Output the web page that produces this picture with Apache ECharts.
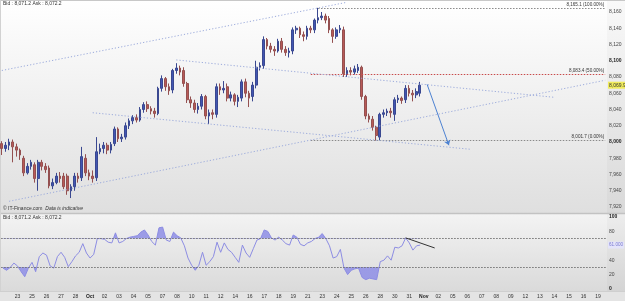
<!DOCTYPE html>
<html>
<head>
<meta charset="utf-8">
<script src="https://cdn.jsdelivr.net/npm/echarts@6.0.0/dist/echarts.min.js"></script>
<style>
html,body{margin:0;padding:0;background:#e4e4e4;}
#main{width:625px;height:301px;}
</style>
</head>
<body>
<div id="main"></div>
<script>
// axis day labels, one every 4 slots
var dayLabels = ['23','25','26','27','28','Oct','02','03','04','05','07','08','10','11','12','14','16','17','18','19',
	'21','23','24','25','26','28','30','31','Nov','02','05','06','07','08','09','12','13','14','15','16','19'];
var slotCount = 167;

var openPrices = [7998,7992,7996,8000,7994,7990,7980,7962,7970,7972, 7955,7975,7970,7968,7946,7950,7958,7958,7958,7940,
	7945,7958,7956,7980,7962,7958,7956,7988,7992,7996, 7990,7998,8016,8004,8006,8020,8026,8030,8027,8040,
	8046,8041,8038,8035,8066,8078,8068,8064,8088,8091, 8088,8072,8052,8048,8040,8044,8056,8032,8036,8034,
	8068,8064,8068,8054,8058,8050,8054,8074,8060,8056, 8070,8092,8094,8126,8118,8114,8112,8124,8114,8110,
	8112,8138,8140,8132,8130,8140,8138,8150,8153,8155, 8152,8138,8130,8138,8138,8084,8088,8086,8088,8092,
	8056,8032,8028,8018,8006,8034,8036,8038,8034,8052, 8054,8052,8066,8060,8058,8060];
var closePrices = [7992,7996,8000,7994,7990,7984,7962,7970,7975,7955, 7975,7970,7966,7946,7950,7958,7955,7945,7940,7945,
	7958,7955,7982,7962,7958,7955,7988,7992,7996,7990, 7997,8016,8004,8006,8020,8026,8030,8027,8040,8046,
	8041,8038,8035,8066,8078,8068,8063,8088,8091,8086, 8072,8052,8048,8040,8044,8056,8032,8036,8034,8068,
	8064,8066,8054,8058,8050,8055,8074,8060,8054,8070, 8092,8094,8126,8118,8114,8112,8124,8114,8110,8112,
	8138,8140,8132,8130,8140,8138,8150,8153,8155,8150, 8138,8130,8138,8140,8084,8088,8086,8090,8092,8056,
	8032,8028,8018,8008,8034,8036,8038,8036,8052,8054, 8051,8066,8060,8058,8062,8069.9];
var lowPrices = [7984,7988,7990,7975,7982,7978,7958,7960,7966,7950, 7940,7965,7962,7943,7942,7948,7950,7942,7935,7931,
	7940,7950,7952,7958,7953,7950,7952,7985,7986,7985, 7986,7995,8000,8000,8003,8016,8022,8024,8025,8036,
	8037,8034,8030,8033,8062,8063,8058,8060,8084,8082, 8068,8048,8042,8036,8035,8040,8028,8022,8028,8030,
	8058,8060,8050,8050,8045,8043,8050,8055,8043,8050, 8066,8088,8090,8114,8110,8106,8110,8110,8106,8104,
	8108,8133,8128,8124,8126,8134,8134,8146,8150,8146, 8134,8122,8127,8134,8080,8080,8082,8083,8085,8052,
	8028,8024,8014,8001.7,8002,8030,8032,8030,8026,8048, 8047,8048,8056,8050,8054,8056];
var highPrices = [8001,8000,8004,8003,7998,7992,7983,7974,7978,7975, 7978,7978,7974,7971,7955,7962,7963,7962,7961,7948,
	7962,7962,7994,7985,7966,7965,8006,7998,8000,7999, 8000,8019,8018,8010,8024,8029,8033,8034,8043,8049,
	8050,8044,8042,8068,8082,8080,8072,8090,8097,8094, 8092,8074,8056,8052,8048,8059,8058,8040,8040,8072,
	8072,8075,8072,8062,8060,8058,8077,8078,8063,8074, 8100,8098,8130,8128,8122,8118,8127,8128,8118,8116,
	8141,8143,8142,8136,8143,8143,8152,8165.1,8160,8158, 8155,8140,8141,8144,8142,8092,8092,8094,8096,8094,
	8058,8035,8032,8020,8036,8040,8041,8042,8055,8058, 8056,8070,8070,8064,8066,8074];

var rsiValues = [29,26,30,36,32,24,17,29,37,24, 45,50,47,32,29,45,51,44,31,38,
	46,51,63,50,43,48,70,70,69,65, 64,78,64,66,70,72,73,74,79,82,
	75,66,61,85,86,68,66,79,74,71, 60,43,33,26,33,51,33,38,45,65,
	51,64,55,51,44,37,61,50,44,56, 68,70,82,80,71,68,72,68,63,61,
	75,72,62,60,64,66,70,72,77,70, 60,43,45,55,29,20,26,28,29,16,
	13,15,14,13,38,40,46,40,58,57, 60,71,64,54,60,61];

var priceTicks = [7920,7940,7960,7980,8000,8020,8040,8060,8080,8100,8120,8140,8160];
var fibLevels = [8165.1, 8083.4, 8001.7];
var fibNames = ['8,165.1 (100.00%)', '8,083.4 (50.00%)', '8,001.7 (0.00%)'];
var rsiLevels = [70, 30];
// drawn lines: [startSlot, startPrice, endSlot, endPrice]
var trendLines = [
	[0, 8088, 95, 8172],
	[2, 7927, 166, 8076],
	[48, 8101, 152, 8055],
	[25, 8036, 129, 7991]
];
var arrowLine = [117, 8071, 123, 7996];
var rsiTrend = [111, 71, 119, 57];
var bidText = 'Bid : 8,071.2 Ask : 8,072.2';

var myChart = echarts.init(document.getElementById('main'));

var slots = [];
var slotLabel = {};
for (var i = 0; i < slotCount; i++) {
	slots.push(String(i));
	slotLabel[i] = (i > 0 && i % 4 === 0 && dayLabels[i / 4 - 1]) ? dayLabels[i / 4 - 1] : '';
}
var candles = [];
for (var j = 0; j < closePrices.length; j++) {
	candles.push([openPrices[j], closePrices[j], lowPrices[j], highPrices[j]]);
}

var fontName = 'Liberation Sans';
var lastClose = closePrices[closePrices.length - 1];
var lastRsi = rsiValues[rsiValues.length - 1];

var priceMarks = [];
fibLevels.forEach(function(v, k){
	var col = k === 1 ? '#c84a4a' : '#8a8a8a';
	var start = k === 0 ? 87 : 85;
	priceMarks.push([
		{coord: [start, v], lineStyle: {color: col, type: [1.5, 1.5], width: 1},
			label: {show: true, position: 'insideEndTop', formatter: fibNames[k], fontSize: 4.6, color: '#333', fontFamily: fontName, distance: 1}},
		{coord: [slotCount - 1, v]}
	]);
});
trendLines.forEach(function(t){
	priceMarks.push([
		{coord: [t[0], t[1]], lineStyle: {color: '#9cabdc', type: [1.2, 2], width: 1}, label: {show: false}},
		{coord: [t[2], t[3]]}
	]);
});
priceMarks.push([
	{coord: [arrowLine[0], arrowLine[1]], symbol: 'none', lineStyle: {color: '#4d82d2', type: 'solid', width: 1}, label: {show: false}},
	{coord: [arrowLine[2], arrowLine[3]], symbol: 'arrow', symbolSize: 5}
]);
priceMarks.push({
	yAxis: lastClose, lineStyle: {color: 'rgba(0,0,0,0)', width: 0},
	label: {show: true, position: 'end', distance: 1, formatter: lastClose.toLocaleString('en-US', {minimumFractionDigits: 1}),
		backgroundColor: '#f1ec5c', color: '#333', fontSize: 5, fontFamily: fontName, padding: [1, 1]}
});

var rsiMarks = [];
rsiLevels.forEach(function(v){
	rsiMarks.push({yAxis: v, lineStyle: {color: '#707070', type: [1.5, 1.5], width: 1}, label: {show: false}});
});
rsiMarks.push([
	{coord: [rsiTrend[0], rsiTrend[1]], lineStyle: {color: '#333', type: 'solid', width: 1}, label: {show: false}},
	{coord: [rsiTrend[2], rsiTrend[3]]}
]);
rsiMarks.push({
	yAxis: lastRsi, lineStyle: {color: 'rgba(0,0,0,0)', width: 0},
	label: {show: true, position: 'end', distance: 1, formatter: lastRsi.toFixed(3),
		backgroundColor: '#e4e4fa', color: '#7a7ad0', fontSize: 4.6, fontFamily: fontName, padding: [1, 1]}
});

function grad(a, b){
	return {type: 'linear', x: 0, y: 0, x2: 0, y2: 1, colorStops: [{offset: 0, color: a}, {offset: 1, color: b}]};
}

myChart.setOption({
	animation: false,
	backgroundColor: '#e4e4e4',
	textStyle: {fontFamily: fontName},
	graphic: [
		{type: 'rect', z: -10, shape: {x: 0, y: 0, width: 625, height: 213}, style: {fill: grad('#ffffff', '#dfdfdf')}},
		{type: 'rect', z: -10, shape: {x: 0, y: 214, width: 625, height: 77}, style: {fill: grad('#f3f3f3', '#dadada')}},
		{type: 'rect', z: -9, shape: {x: 607, y: 0, width: 18, height: 291}, style: {fill: 'rgba(0,0,0,0.025)'}},
		{type: 'line', z: -8, shape: {x1: 0, y1: 213.5, x2: 625, y2: 213.5}, style: {stroke: '#c2c2c2', lineWidth: 1.5}},
		{type: 'line', z: -8, shape: {x1: 0, y1: 291.5, x2: 625, y2: 291.5}, style: {stroke: '#cfcfcf', lineWidth: 1}},
		{type: 'line', z: -8, shape: {x1: 0, y1: 0.5, x2: 625, y2: 0.5}, style: {stroke: '#c8c8c8', lineWidth: 1}},
		{type: 'line', z: -8, shape: {x1: 0.5, y1: 0, x2: 0.5, y2: 291}, style: {stroke: '#d2d2d2', lineWidth: 1}}
	],
	title: [
		{text: bidText, left: 3, top: 1, padding: 0, textStyle: {fontSize: 5, fontWeight: 'normal', color: '#333', fontFamily: fontName}},
		{text: '{a|© IT-Finance.com}  {b|Data is indicative}', left: 3, top: 206, padding: 0,
			textStyle: {fontSize: 5, fontWeight: 'normal', color: '#333', rich: {
				a: {fontSize: 5, color: '#333', fontFamily: fontName},
				b: {fontSize: 5, color: '#333', fontStyle: 'italic', fontFamily: fontName}}}},
		{text: bidText, left: 3, top: 215, padding: 0, textStyle: {fontSize: 5, fontWeight: 'normal', color: '#333', fontFamily: fontName}}
	],
	grid: [
		{left: 0, right: 18, top: 2, height: 211},
		{left: 0, right: 18, top: 217, height: 72}
	],
	xAxis: [
		{type: 'category', gridIndex: 0, data: slots, boundaryGap: true,
			axisLine: {show: false}, axisTick: {show: false}, axisLabel: {show: false}, splitLine: {show: false}},
		{type: 'category', gridIndex: 1, data: slots, boundaryGap: true,
			axisLine: {show: false}, axisTick: {show: false}, splitLine: {show: false},
			axisLabel: {interval: 3, margin: 5, fontSize: 5, color: '#333', fontFamily: fontName,
				formatter: function(v, idx){
					var s = slotLabel[idx] || '';
					return (s === 'Oct' || s === 'Nov') ? '{b|' + s + '}' : s;
				},
				rich: {b: {fontWeight: 'bold', fontSize: 5, fontFamily: fontName, color: '#222'}}}}
	],
	yAxis: [
		{type: 'value', gridIndex: 0, position: 'right', min: 7912.6, max: 8172.3,
			splitLine: {show: false}, axisLine: {show: false}, axisTick: {show: false},
			axisLabel: {customValues: priceTicks, margin: 2, fontSize: 5, color: '#444', fontFamily: fontName,
				formatter: function(v){
					var s = v.toLocaleString('en-US');
					return v % 100 === 0 ? '{b|' + s + '}' : s;
				},
				rich: {b: {fontWeight: 'bold', fontSize: 5, fontFamily: fontName, color: '#222'}}}},
		{type: 'value', gridIndex: 1, position: 'right', min: 0, max: 100, interval: 20,
			splitLine: {show: false}, axisLine: {show: false}, axisTick: {show: false},
			axisLabel: {margin: 2, fontSize: 5, color: '#444', fontFamily: fontName,
				formatter: function(v){
					return (v === 100 || v === 0) ? '{b|' + v + '}' : String(v);
				},
				rich: {b: {fontWeight: 'bold', fontSize: 5, fontFamily: fontName, color: '#222'}}}}
	],
	visualMap: [{
		type: 'piecewise', show: false, seriesIndex: 2, dimension: 1,
		pieces: [
			{gt: 70, color: '#9393e6'},
			{gte: 30, lte: 70, color: 'rgba(255,255,255,0)'},
			{lt: 30, color: '#9393e6'}
		]
	}],
	series: [
		{
			name: 'Price', type: 'candlestick', xAxisIndex: 0, yAxisIndex: 0, data: candles,
			barWidth: '60%',
			itemStyle: {color: '#4256b2', color0: '#b85a57', borderColor: '#3a4890', borderColor0: '#945050', borderWidth: 1},
			markLine: {silent: true, symbol: 'none', animation: false, data: priceMarks}
		},
		{
			name: 'RSI', type: 'line', xAxisIndex: 1, yAxisIndex: 1, data: rsiValues,
			symbol: 'none', showSymbol: false, z: 4,
			lineStyle: {color: '#8d8de3', width: 1},
			markLine: {silent: true, symbol: 'none', animation: false, data: rsiMarks}
		},
		{
			name: 'RSI zone', type: 'line', xAxisIndex: 1, yAxisIndex: 1, data: rsiValues,
			symbol: 'none', showSymbol: false, z: 3, silent: true,
			lineStyle: {width: 0, opacity: 0},
			areaStyle: {origin: 70, opacity: 0.9}
		}
	]
});

window.onresize = function(){
	myChart.resize();
}
</script>
</body>
</html>
